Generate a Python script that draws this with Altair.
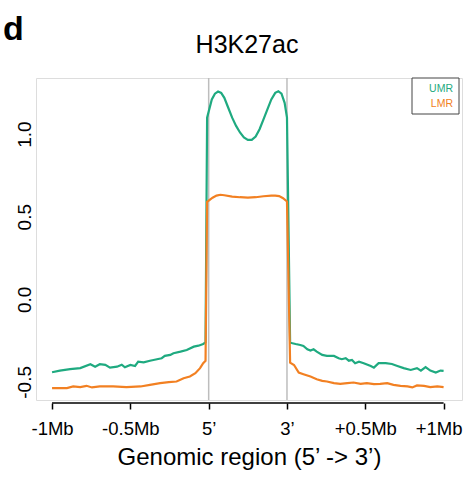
import altair as alt
import pandas as pd

# ---------------- data ----------------
series_names = ["UMR", "LMR"]
series_colors = ["#1FAA80", "#F28022"]
x_tick_values = [0, 1, 2, 3, 4, 5]
x_tick_labels = ["-1Mb", "-0.5Mb", "5\u2019", "3\u2019", "+0.5Mb", "+1Mb"]
y_tick_values = [-0.5, 0.0, 0.5, 1.0]
boundary_x = [2, 3]
panel_letter = "d"
panel_title = "H3K27ac"
x_title = "Genomic region (5\u2019 -> 3\u2019)"

umr_x = [0.00, 0.10, 0.23, 0.36, 0.49, 0.55, 0.61, 0.68, 0.74, 0.83, 0.89, 0.93,
         1.00, 1.06, 1.10, 1.17, 1.25, 1.34, 1.40, 1.44, 1.51, 1.55, 1.64, 1.72,
         1.81, 1.87, 1.93, 1.96,
         1.98, 2.04, 2.08, 2.12, 2.16, 2.20, 2.25, 2.30, 2.35, 2.40, 2.45, 2.50,
         2.55, 2.60, 2.65, 2.70, 2.75, 2.80, 2.85, 2.89, 2.93, 2.97, 3.00,
         3.04, 3.11, 3.17, 3.21, 3.26, 3.30, 3.34, 3.38, 3.45, 3.51, 3.60, 3.66,
         3.70, 3.75, 3.79, 3.83, 3.87, 3.92, 3.98, 4.07, 4.11, 4.17, 4.26, 4.34,
         4.41, 4.49, 4.58, 4.66, 4.71, 4.77, 4.83, 4.90, 4.96, 5.00]
umr_y = [-0.442, -0.432, -0.423, -0.417, -0.393, -0.408, -0.393, -0.397, -0.414, -0.408, -0.396, -0.412,
         -0.398, -0.404, -0.378, -0.382, -0.372, -0.363, -0.357, -0.343, -0.337, -0.327, -0.317, -0.307,
         -0.287, -0.281, -0.271, -0.261,
         1.10, 1.21, 1.245, 1.258, 1.25, 1.22, 1.16, 1.10, 1.05, 1.01, 0.98, 0.965,
         0.965, 0.985, 1.03, 1.09, 1.15, 1.21, 1.25, 1.26, 1.245, 1.19, 1.10,
         -0.263, -0.271, -0.277, -0.283, -0.303, -0.311, -0.303, -0.317, -0.337, -0.343, -0.343, -0.357,
         -0.363, -0.357, -0.372, -0.368, -0.387, -0.378, -0.387, -0.404, -0.414, -0.387, -0.387, -0.392,
         -0.404, -0.417, -0.428, -0.417, -0.432, -0.411, -0.432, -0.444, -0.432, -0.434]

lmr_x = [0.00, 0.19, 0.27, 0.36, 0.44, 0.51, 0.61, 0.78, 0.95, 1.13, 1.25, 1.38,
         1.49, 1.59, 1.68, 1.76, 1.83, 1.89, 1.93, 1.96,
         1.98, 2.05, 2.10, 2.15, 2.20, 2.30, 2.40, 2.50, 2.60, 2.70, 2.80, 2.85,
         2.90, 2.95, 3.00,
         3.04, 3.09, 3.15, 3.21, 3.30, 3.38, 3.45, 3.51, 3.60, 3.68, 3.77, 3.85,
         3.94, 4.02, 4.11, 4.19, 4.28, 4.36, 4.45, 4.54, 4.60, 4.66, 4.75, 4.83,
         4.92, 5.00]
lmr_y = [-0.538, -0.538, -0.528, -0.532, -0.524, -0.534, -0.528, -0.528, -0.532, -0.528, -0.518, -0.508,
         -0.502, -0.498, -0.478, -0.468, -0.448, -0.417, -0.387, -0.372,
         0.59, 0.615, 0.628, 0.633, 0.630, 0.622, 0.618, 0.616, 0.618, 0.624, 0.628, 0.628,
         0.625, 0.612, 0.592,
         -0.384, -0.398, -0.444, -0.454, -0.468, -0.484, -0.494, -0.498, -0.508, -0.512, -0.508, -0.504,
         -0.512, -0.508, -0.514, -0.512, -0.508, -0.518, -0.524, -0.528, -0.534, -0.522, -0.524, -0.532,
         -0.528, -0.532]

# ---------------- build table ----------------
rows = []
for name, xs, ys in [("UMR", umr_x, umr_y), ("LMR", lmr_x, lmr_y)]:
    for i, (xv, yv) in enumerate(zip(xs, ys)):
        rows.append({"series": name, "x": xv, "y": yv, "order": i})
df = pd.DataFrame(rows)

FONT = "Liberation Sans"
W, H = 426, 322

xscale = alt.Scale(domain=[-0.205, 5.235], nice=False, zero=False)
yscale = alt.Scale(domain=[-0.61, 1.34], nice=False, zero=False)
cscale = alt.Scale(domain=series_names, range=series_colors)

label_map = "{" + ",".join(f"'{v}': '{l}'" for v, l in zip(x_tick_values, x_tick_labels)) + "}"

x_axis = alt.Axis(
    values=x_tick_values,
    labelExpr=f"{label_map}[datum.value]",
    title=x_title,
    domain=False,
    grid=False,
    offset=3,
    ticks=True,
    tickSize=6,
    tickWidth=1.5,
    tickColor="black",
    labelFont=FONT,
    labelFontSize=18.5,
    labelColor="black",
    labelPadding=10,
    labelOffset={"condition": {"test": f"datum.value == {x_tick_values[-1]}", "value": -5}, "value": 0},
    labelFlush=False,
    labelOverlap=False,
    titleFont=FONT,
    titleFontSize=24,
    titleFontWeight="normal",
    titleColor="black",
    titlePadding=8,
)
y_axis = alt.Axis(
    values=y_tick_values,
    labelExpr="datum.value < 0 ? '-' + format(-datum.value, '.1f') : format(datum.value, '.1f')",
    title=None,
    domain=False,
    grid=False,
    ticks=False,
    tickSize=0,
    labelAngle=270,
    labelAlign="center",
    labelBaseline="alphabetic",
    labelPadding=6,
    labelFont=FONT,
    labelFontSize=19,
    labelColor="black",
    labelFlush=False,
    labelOverlap=False,
)

lines = alt.Chart(df).mark_line(strokeWidth=2.2).encode(
    x=alt.X("x:Q", scale=xscale, axis=x_axis),
    y=alt.Y("y:Q", scale=yscale, axis=y_axis),
    color=alt.Color("series:N", scale=cscale, legend=None),
    order="order:Q",
)

bounds = alt.Chart(pd.DataFrame({"x": boundary_x})).mark_rule(
    color="#BDBDBD", strokeWidth=1.5
).encode(x=alt.X("x:Q", scale=xscale, axis=x_axis))

axis_line = alt.Chart(pd.DataFrame({"x": [x_tick_values[0]], "x2": [x_tick_values[-1]]})).mark_rule(
    color="black", strokeWidth=1.5
).encode(
    x=alt.X("x:Q", scale=xscale, axis=x_axis),
    x2="x2:Q",
    y=alt.value(H + 3),
)

legend_box = alt.Chart(pd.DataFrame({"k": [0]})).mark_rect(
    fill="white", stroke="#444", strokeWidth=1
).encode(x=alt.value(376), x2=alt.value(423), y=alt.value(0), y2=alt.value(36))

legend_umr = alt.Chart(pd.DataFrame({"t": [series_names[0]]})).mark_text(
    font=FONT, fontSize=10.5, align="right", baseline="middle", color=series_colors[0]
).encode(text="t:N", x=alt.value(417), y=alt.value(11))
legend_lmr = alt.Chart(pd.DataFrame({"t": [series_names[1]]})).mark_text(
    font=FONT, fontSize=10.5, align="right", baseline="middle", color=series_colors[1]
).encode(text="t:N", x=alt.value(417), y=alt.value(26))

title_txt = alt.Chart(pd.DataFrame({"t": [panel_title]})).mark_text(
    font=FONT, fontSize=25, align="center", baseline="alphabetic", color="black"
).encode(text="t:N", x=alt.value(W / 2 - 2), y=alt.value(-25))

letter_txt = alt.Chart(pd.DataFrame({"t": [panel_letter]})).mark_text(
    font=FONT, fontSize=34, fontWeight="bold", align="left", baseline="alphabetic", color="black"
).encode(text="t:N", x=alt.value(-33), y=alt.value(-38))

chart = alt.layer(
    bounds, lines, axis_line, legend_box, legend_umr, legend_lmr, title_txt, letter_txt
).properties(
    width=W,
    height=H,
    autosize=alt.AutoSizeParams(type="none"),
    padding={"left": 36, "top": 78, "right": 1, "bottom": 80},
).configure_view(
    stroke="#444", strokeWidth=1
).configure(background="white")

chart.save("out.html", embed_options={"renderer": "svg", "actions": False})
